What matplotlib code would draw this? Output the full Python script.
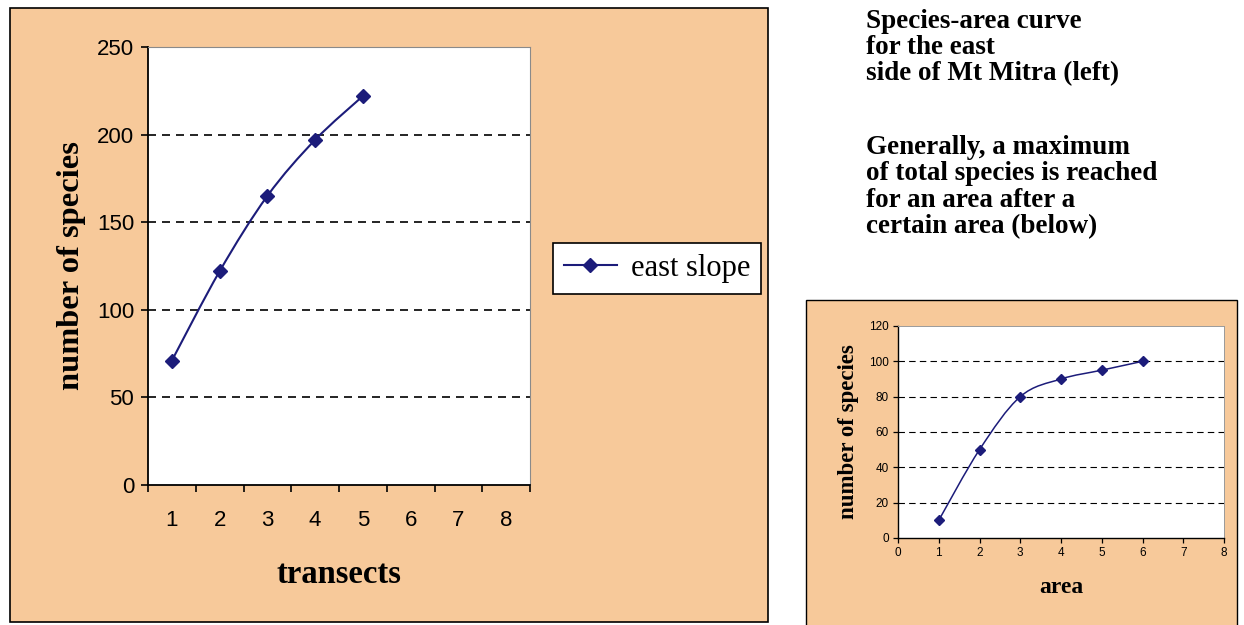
import matplotlib.pyplot as plt
import numpy as np
from matplotlib.patches import Rectangle, PathPatch
from matplotlib.path import Path
from matplotlib.lines import Line2D

W, H = 1244, 625

# data
transects = [1, 2, 3, 4, 5]
east_species = [71, 122, 165, 197, 222]
transect_labels = ['1', '2', '3', '4', '5', '6', '7', '8']
main_yticks = [0, 50, 100, 150, 200, 250]

area = [1, 2, 3, 4, 5, 6]
area_species = [10, 50, 80, 90, 95, 100]
inset_xticks = [0, 1, 2, 3, 4, 5, 6, 7, 8]
inset_yticks = [0, 20, 40, 60, 80, 100, 120]

note_lines = ['Species-area curve', 'for the east', 'side of Mt Mitra (left)',
              'Generally, a maximum', 'of total species is reached',
              'for an area after a', 'certain area (below)']
note_y = [22, 48, 74, 147, 174, 200, 227]

TAN = '#F7C99A'
NAVY = '#1C1C7A'
SERIF = 'Liberation Serif'
SANS = 'Liberation Sans'


def fx(px):
    return px / W


def fy(py):
    return 1 - py / H


def smooth_path(xs, ys):
    # Excel-like smoothed line as cubic bezier segments through the points
    pts = np.column_stack([xs, ys]).astype(float)
    n = len(pts)
    verts = [pts[0]]
    codes = [Path.MOVETO]
    for i in range(n - 1):
        p0 = pts[max(i - 1, 0)]
        p1, p2 = pts[i], pts[i + 1]
        p3 = pts[min(i + 2, n - 1)]
        verts += [p1 + (p2 - p0) / 6, p2 - (p3 - p1) / 6, p2]
        codes += [Path.CURVE4] * 3
    return Path(verts, codes)


fig = plt.figure(figsize=(W / 100, H / 100), dpi=100)
fig.patch.set_facecolor('white')

# tan panels behind both charts
fig.add_artist(Rectangle((fx(10), fy(622)), fx(768) - fx(10), fy(8) - fy(622),
                         transform=fig.transFigure, facecolor=TAN,
                         edgecolor='black', lw=1.2, zorder=0))
fig.add_artist(Rectangle((fx(806), fy(640)), fx(1237) - fx(806), fy(300) - fy(640),
                         transform=fig.transFigure, facecolor=TAN,
                         edgecolor='black', lw=1.0, zorder=0))

# ---- main chart ----
ax = fig.add_axes([fx(148), fy(485), fx(530) - fx(148), fy(47) - fy(485)])
ax.set_facecolor('white')
ax.set_xlim(0.5, 8.5)
ax.set_ylim(main_yticks[0], main_yticks[-1])
ax.set_xticks(range(1, len(transect_labels) + 1))
ax.set_xticklabels(transect_labels)
ax.set_xticks(np.arange(0.5, len(transect_labels) + 1, 1), minor=True)
ax.set_yticks(main_yticks)
ax.tick_params(axis='x', which='major', length=0, pad=18, labelsize=16)
ax.tick_params(axis='x', which='minor', length=5, width=1.2, direction='out')
ax.tick_params(axis='y', length=5, width=1.2, pad=5, labelsize=16)
for lab in ax.get_xticklabels() + ax.get_yticklabels():
    lab.set_family(SANS)
for s in ['left', 'bottom']:
    ax.spines[s].set_color('black')
    ax.spines[s].set_linewidth(1.3)
for s in ['top', 'right']:
    ax.spines[s].set_color('#8a8a8a')
    ax.spines[s].set_linewidth(0.8)
for v in main_yticks[1:-1]:
    ax.axhline(v, color='black', lw=1.2, ls=(0, (4.8, 3.6)), zorder=1)

ax.add_patch(PathPatch(smooth_path(transects, east_species), fill=False,
                       edgecolor=NAVY, lw=1.5, zorder=3))
ax.plot(transects, east_species, ls='none', marker='D', ms=7.5,
        color=NAVY, zorder=4)
ax.set_ylabel('number of species', family=SERIF, weight='bold', fontsize=23.4, labelpad=8)
ax.set_xlabel('transects', family=SERIF, weight='bold', fontsize=23.5, labelpad=20)

handle = Line2D([], [], color=NAVY, lw=1.5, marker='D', ms=7.5)
leg = fig.legend([handle], ['east slope'], loc='center left',
                 bbox_to_anchor=(fx(553), fy(268.5)), frameon=True, fancybox=False,
                 framealpha=1, edgecolor='black', handlelength=1.75,
                 borderpad=0.35, handletextpad=0.45, borderaxespad=0,
                 prop={'family': SERIF, 'size': 22})
leg.get_frame().set_linewidth(1.2)

# ---- notes on the right ----
for line, y in zip(note_lines, note_y):
    fig.text(fx(866), fy(y), line, family=SERIF, weight='bold', fontsize=19.5,
             va='center', ha='left')

# ---- inset chart ----
ax2 = fig.add_axes([fx(898), fy(538), fx(1224) - fx(898), fy(326) - fy(538)])
ax2.set_facecolor('white')
ax2.set_xlim(inset_xticks[0], inset_xticks[-1])
ax2.set_ylim(inset_yticks[0], inset_yticks[-1])
ax2.set_xticks(inset_xticks)
ax2.set_yticks(inset_yticks)
ax2.tick_params(length=3.5, width=0.9, pad=3, labelsize=8.5)
for lab in ax2.get_xticklabels() + ax2.get_yticklabels():
    lab.set_family(SANS)
for s in ['left', 'bottom']:
    ax2.spines[s].set_color('black')
    ax2.spines[s].set_linewidth(1.0)
for s in ['top', 'right']:
    ax2.spines[s].set_color('#9a9a9a')
    ax2.spines[s].set_linewidth(0.7)
for v in inset_yticks[1:-1]:
    ax2.axhline(v, color='black', lw=0.8, ls=(0, (5.8, 3.8)), zorder=1)

ax2.add_patch(PathPatch(smooth_path(area, area_species), fill=False,
                        edgecolor=NAVY, lw=1.1, zorder=3))
ax2.plot(area, area_species, ls='none', marker='D', ms=5, color=NAVY, zorder=4)
ax2.set_ylabel('number of species', family=SERIF, weight='bold', fontsize=16.5, labelpad=7)
ax2.set_xlabel('area', family=SERIF, weight='bold', fontsize=17, labelpad=13)

fig.savefig('out.png', dpi=100)
